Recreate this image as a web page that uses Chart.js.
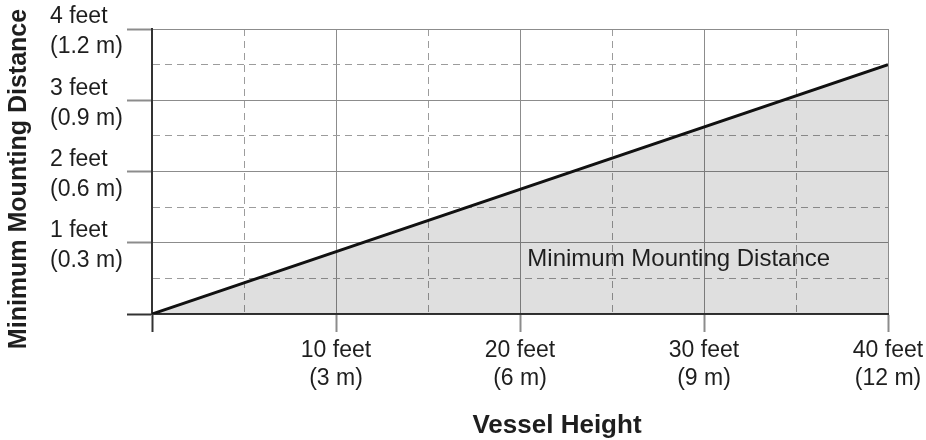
<!DOCTYPE html>
<html>
<head>
<meta charset="utf-8">
<script src="https://cdn.jsdelivr.net/npm/chart.js@4.4.1/dist/chart.umd.min.js"></script>
<style>
    html, body { margin: 0; padding: 0; background: #fff; }
    #wrap { width: 926px; height: 440px; position: relative; }
</style>
</head>
<body>
<div id="wrap"><canvas id="mountChart"></canvas></div>
<script>
// vessel height (feet) vs minimum mounting distance (feet)
const vesselHeight = [0, 40];
const mountingDistance = [0, 3.5];

const xGridValues = [0, 5, 10, 15, 20, 25, 30, 35, 40];
const xTickValues = [10, 20, 30, 40];
const xTickLabels = [['10 feet', '(3 m)'], ['20 feet', '(6 m)'], ['30 feet', '(9 m)'], ['40 feet', '(12 m)']];
const yGridValues = [0, 0.5, 1, 1.5, 2, 2.5, 3, 3.5, 4];
const yTickValues = [1, 2, 3, 4];
const yTickLabels = [['1 feet', '(0.3 m)'], ['2 feet', '(0.6 m)'], ['3 feet', '(0.9 m)'], ['4 feet', '(1.2 m)']];

const xTitle = 'Vessel Height';
const yTitle = 'Minimum Mounting Distance';
const areaLabel = 'Minimum Mounting Distance';
const areaLabelAt = [20.4, 0.67];

const FONT = '"Liberation Sans", Arial, Helvetica, sans-serif';
const textColor = '#1e1e1e';
const axisColor = '#333';
const gridColor = '#8c8c8c';
const dashColor = '#9c9c9c';
const none = 'rgba(0,0,0,0)';

// solid lines on whole feet / every 10 feet, dashed in between
const xLineColors = xGridValues.map(v => v % 10 === 0 ? gridColor : dashColor);
const yLineColors = yGridValues.map(v => v % 1 === 0 ? gridColor : dashColor);
const xTickColors = xGridValues.map(v => v === 0 ? axisColor : (v % 10 === 0 ? gridColor : none));
const yTickColors = yGridValues.map(v => v === 0 ? axisColor : (v % 1 === 0 ? gridColor : none));

const textPlugin = {
    id: 'chartTexts',
    afterDraw(chart) {
        const { ctx, scales: { x, y } } = chart;
        ctx.save();
        ctx.fillStyle = textColor;

        ctx.font = '24px ' + FONT;
        ctx.textAlign = 'left';
        ctx.textBaseline = 'alphabetic';
        ctx.fillText(areaLabel, x.getPixelForValue(areaLabelAt[0]), y.getPixelForValue(areaLabelAt[1]));

        ctx.font = 'bold 26px ' + FONT;
        ctx.textAlign = 'center';
        ctx.fillText(xTitle, 557, 433);

        ctx.translate(26, 179);
        ctx.rotate(-Math.PI / 2);
        ctx.font = 'bold 25px ' + FONT;
        ctx.fillText(yTitle, 0, 0);
        ctx.restore();
    }
};

new Chart(document.getElementById('mountChart'), {
    type: 'line',
    data: {
        datasets: [{
            label: areaLabel,
            data: vesselHeight.map((h, i) => ({ x: h, y: mountingDistance[i] })),
            borderColor: '#111',
            borderWidth: 3,
            backgroundColor: 'rgba(0,0,0,0.125)',
            fill: 'origin',
            pointRadius: 0,
            tension: 0
        }]
    },
    options: {
        responsive: true,
        maintainAspectRatio: false,
        animation: false,
        layout: { padding: { top: 29, right: 38, left: 50, bottom: 0 } },
        plugins: { legend: { display: false }, tooltip: { enabled: false } },
        scales: {
            x: {
                type: 'linear',
                min: 0,
                max: 40,
                afterBuildTicks: (scale) => {
                    scale.ticks = xGridValues.map(v => ({ value: v }));
                },
                afterFit: (scale) => {
                    scale.height = 126;
                    scale.paddingLeft = 0;
                    scale.paddingRight = 0;
                },
                ticks: {
                    autoSkip: false,
                    maxRotation: 0,
                    padding: 4,
                    color: textColor,
                    font: { family: FONT, size: 23, lineHeight: 1.25 },
                    callback: (value) => {
                        const i = xTickValues.indexOf(value);
                        return i >= 0 ? xTickLabels[i] : '';
                    }
                },
                grid: {
                    color: xLineColors,
                    lineWidth: 1,
                    drawTicks: true,
                    tickLength: 18,
                    tickColor: xTickColors,
                    tickWidth: 2
                },
                border: {
                    display: true,
                    color: axisColor,
                    width: 2,
                    dash: (c) => (c.tick && c.tick.value % 10 !== 0) ? [7, 5] : []
                }
            },
            y: {
                type: 'linear',
                min: 0,
                max: 4,
                afterBuildTicks: (scale) => {
                    scale.ticks = yGridValues.map(v => ({ value: v }));
                },
                afterFit: (scale) => {
                    scale.width = 102;
                    scale.paddingTop = 0;
                    scale.paddingBottom = 0;
                },
                ticks: {
                    autoSkip: false,
                    crossAlign: 'far',
                    labelOffset: 3,
                    color: textColor,
                    font: { family: FONT, size: 23, lineHeight: 1.3 },
                    callback: (value) => {
                        const i = yTickValues.indexOf(value);
                        return i >= 0 ? yTickLabels[i] : '';
                    }
                },
                grid: {
                    color: yLineColors,
                    lineWidth: 1,
                    drawTicks: true,
                    tickLength: 25,
                    tickColor: yTickColors,
                    tickWidth: 2
                },
                border: {
                    display: true,
                    color: axisColor,
                    width: 2,
                    dash: (c) => (c.tick && c.tick.value % 1 !== 0) ? [7, 5] : []
                }
            }
        }
    },
    plugins: [textPlugin]
});
</script>
</body>
</html>
